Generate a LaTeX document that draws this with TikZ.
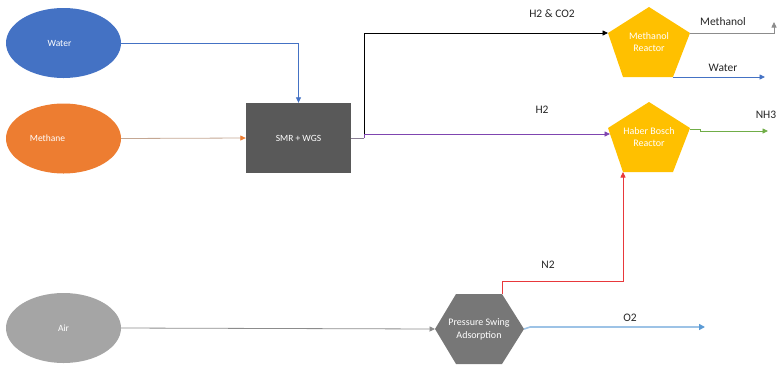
\documentclass[tikz,border=0pt]{standalone}
\usepackage{fontspec}
\setmainfont{Carlito}
\usetikzlibrary{arrows.meta,shapes.geometric}
\definecolor{cblue}{HTML}{4472C4}
\definecolor{corange}{HTML}{ED7D31}
\definecolor{cair}{HTML}{A5A5A5}
\definecolor{cbox}{HTML}{595959}
\definecolor{cgold}{HTML}{FFC000}
\definecolor{cpsa}{HTML}{777777}
\definecolor{ctan}{HTML}{C4A793}
\definecolor{cpurple}{HTML}{7F45B0}
\definecolor{cgreen}{HTML}{70AD47}
\definecolor{cred}{HTML}{E8383B}
\definecolor{clblue}{HTML}{9DC3E6}
\definecolor{cdblue}{HTML}{5B9BD5}
\definecolor{cgrey}{HTML}{8C8C8C}
\definecolor{ctext}{HTML}{262626}
\tikzset{
  src/.style={ellipse, minimum width=115pt, minimum height=70pt, inner sep=0pt, text=white, font=\fontsize{9.5}{11}\selectfont},
  proc/.style={text=white, font=\fontsize{10}{12.5}\selectfont, align=center},
  lbl/.style={text=ctext, font=\fontsize{11.5}{13}\selectfont},
  tip/.style={-{Triangle[length=5.5pt,width=5pt]}},
  conn/.style={line width=0.8pt},
}
\begin{document}
\begin{tikzpicture}[x=1pt,y=-1pt]
\useasboundingbox (0,0) rectangle (781,365);
% sources
\node[src, fill=cblue] (water) at (63.5,43) {\hspace*{-8pt}Water};
\node[src, fill=corange] (methane) at (63.5,138.5) {\hspace*{-32pt}Methane};
\node[src, fill=cair] (air) at (63.5,328) {Air};
% SMR box
\node[fill=cbox, minimum width=105pt, minimum height=70pt, inner sep=0pt, proc, font=\fontsize{9.5}{11}\selectfont] (smr) at (298.5,138) {SMR + WGS};
% Methanol reactor pentagon
\fill[cgold] (649,7) -- (690,33) -- (673,77) -- (623,77) -- (608,33) -- cycle;
\node[proc] (mr) at (649,42) {Methanol\\Reactor};
\coordinate (mrL) at (608,33);
\coordinate (mrR) at (690,33);
\coordinate (mrB) at (673,77);
% Haber Bosch pentagon
\fill[cgold] (649,102) -- (690,128) -- (673,172) -- (623,172) -- (608,128) -- cycle;
\node[proc] (hb) at (649,137) {Haber Bosch\\Reactor};
\coordinate (hbL) at (610,134);
\coordinate (hbR) at (690,129);
\coordinate (hbB) at (623,172);
% PSA hexagon
\fill[cpsa] (435,329) -- (456,294) -- (502,294) -- (524,329) -- (502,364) -- (456,364) -- cycle;
\node[proc] (psa) at (479,329.5) {Pressure Swing\\Adsorption};
\coordinate (psaL) at (435,329);
\coordinate (psaT) at (502,294);
\coordinate (psaR) at (524,329);
% junction points and free ends
\coordinate (j1) at (364,138);
\coordinate (mo) at (774,22);
\coordinate (wo) at (765,77);
\coordinate (no) at (768,131);
\coordinate (oo) at (705,327);
% connectors
\draw[conn, cblue, tip] (water.east) -| (smr.north);
\draw[conn, ctan, -{Triangle[length=5.5pt,width=5pt,color=corange]}] (methane.east) -- (smr.west);
\draw[conn, cgrey!80!cpurple] (smr.east) -- (j1);
\draw[conn, black, tip] (j1) |- (mrL);
\draw[conn, cpurple, tip] (j1) |- (hbL);
\draw[conn, cgrey, tip] (mrR) -| (mo);
\draw[conn, cblue, tip] (mrB) -- (wo);
\draw[conn, cgreen, tip] (hbR) -- ++(10,0) -- ++(0,2) -- (no);
\draw[conn, cgrey, tip] (air.east) -- (psaL);
\draw[conn, cred, tip] (psaT) -- ++(0,-13) -| (hbB);
\draw[line width=1.6pt, clblue, -{Triangle[length=6pt,width=6pt,color=cdblue]}] (psaR) -- ++(6,-2) -- (oo);
% labels
\node[lbl] (l1) at (552,14) {H2 \& CO2};
\node[lbl] (l2) at (542,110) {H2};
\node[lbl] (l3) at (723,22) {Methanol};
\node[lbl] (l4) at (723,68) {Water};
\node[lbl] (l5) at (766,115) {NH3};
\node[lbl] (l6) at (548,265) {N2};
\node[lbl] (l7) at (630,318) {O2};
\end{tikzpicture}
\end{document}
